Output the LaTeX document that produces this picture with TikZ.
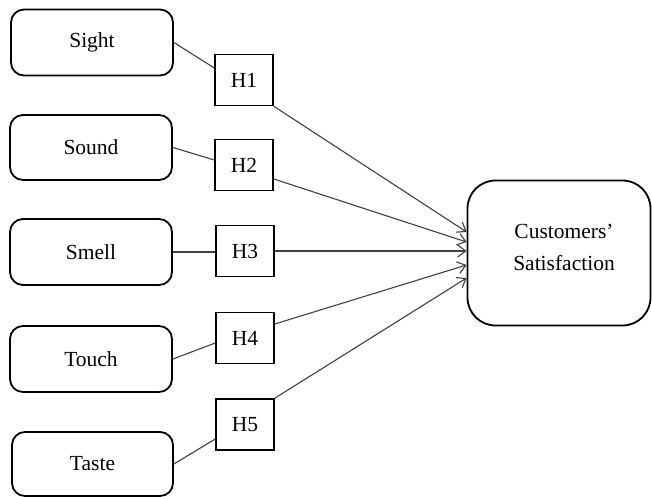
\documentclass[tikz,border=0pt]{standalone}
\usepackage{fontspec}
\setmainfont{Liberation Serif}
\usetikzlibrary{calc,arrows.meta}
\begin{document}
\begin{tikzpicture}[x=1pt,y=-1pt,
  sense/.style={draw=black,line width=1.8pt,rounded corners=13pt,minimum width=162pt,minimum height=66pt,inner sep=0pt,font=\fontsize{21.5}{26}\selectfont},
  hyp/.style={draw=black,line width=1.5pt,minimum width=58pt,minimum height=51pt,inner sep=0pt,font=\fontsize{21.5}{26}\selectfont},
  outc/.style={draw=black,line width=1.8pt,rounded corners=28pt,minimum width=183pt,minimum height=145pt,inner sep=0pt,font=\fontsize{21.5}{32}\selectfont,align=center},
  link/.style={draw=black!75,line width=1.1pt},
  arr/.style={link,-{Straight Barb[length=8pt,width=12pt,line width=1.1pt]}}]
\useasboundingbox (0,0) rectangle (652,497);
\node[sense] (sight) at (92,42.5) {Sight};
\node[sense,minimum height=65pt] (sound) at (91,147.5) {Sound};
\node[sense] (smell) at (91,252) {Smell};
\node[sense] (touch) at (91,359) {Touch};
\node[sense,minimum width=161pt,minimum height=64pt] (taste) at (92.5,464) {Taste};
\node[hyp] (h1) at (244,80) {H1};
\node[hyp] (h2) at (244,165) {H2};
\node[hyp] (h3) at (245,251) {H3};
\node[hyp] (h4) at (245,338) {H4};
\node[hyp] (h5) at (245,424.5) {H5};
\node[outc] (cust) at (559,253) {};
\node[font=\fontsize{21.5}{32}\selectfont,align=center] (custtext) at (564,247) {Customers’\\Satisfaction};
\draw[link] (sight.east) -- ($(h1.west)+(0,-12)$);
\draw[link] (sound.east) -- ($(h2.west)+(0,-5)$);
\draw[link] (smell.east -| smell.east) -- (smell.east -| h3.west);
\draw[link] (touch.east) -- ($(h4.west)+(0,5)$);
\draw[link] (taste.east) -- ($(h5.west)+(0,14.5)$);
\draw[arr] (h1.south east) -- ($(cust.west)+(0,-21)$);
\draw[arr] ($(h2.east)+(0,14)$) -- ($(cust.west)+(0,-11)$);
\draw[arr] (h3.east) -- (h3.east -| cust.west);
\draw[arr] ($(h4.east)+(0,-14)$) -- ($(cust.west)+(0,12)$);
\draw[arr] (h5.north east) -- ($(cust.west)+(0,25)$);
\end{tikzpicture}
\end{document}
